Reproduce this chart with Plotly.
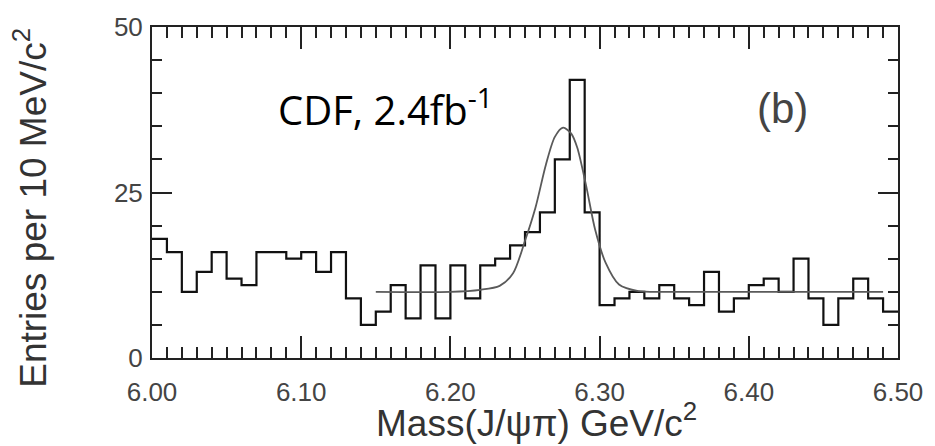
import plotly.graph_objects as go

# ---- data ----
bin_width = 0.01
mass_low = 6.00
entries = [18, 16, 10, 13, 16, 12, 11, 16, 16, 15,
           16, 13, 16, 9, 5, 7, 11, 6, 14, 6,
           14, 9, 14, 15, 17, 19, 22, 30, 42, 22,
           8, 9, 10, 9, 11, 9, 8, 13, 7, 9,
           11, 12, 10, 15, 9, 5, 9, 12, 9, 7]

fit_mass = [6.15, 6.20, 6.22, 6.233, 6.242, 6.250, 6.257, 6.264, 6.270, 6.2755,
            6.281, 6.285, 6.291, 6.297, 6.304, 6.313, 6.326, 6.35, 6.40, 6.45, 6.49]
fit_vals = [10.0, 10.0, 10.3, 10.9, 12.8, 17.7, 22.7, 29.2, 33.4, 34.8,
            33.9, 31.8, 26.0, 19.4, 14.4, 11.1, 10.1, 10.0, 10.0, 10.0, 10.0]

x_range = [6.0, 6.5]
y_range = [0, 50]
x_major_step = 0.10
y_major_step = 25
y_minor_step = 5

# histogram as step line
edges = [round(mass_low + i * bin_width, 2) for i in range(len(entries) + 1)]
hx = edges
hy = entries + [entries[-1]]

font_main = "Liberation Sans, Arial, Helvetica, sans-serif"
axis_col = "#222222"

fig = go.Figure()
fig.add_trace(go.Scatter(x=hx, y=hy, mode="lines",
                         line=dict(color="#111111", width=2.2, shape="hv"),
                         showlegend=False, hoverinfo="skip"))
# fit curve on the overlay axes (same ranges) -> also carries the minor ticks
fig.add_trace(go.Scatter(x=fit_mass, y=fit_vals, mode="lines", xaxis="x2", yaxis="y2",
                         line=dict(color="#5a5a5a", width=1.8, shape="spline", smoothing=0.8),
                         showlegend=False, hoverinfo="skip"))

fig.update_layout(
    width=935, height=446,
    margin=dict(l=152, r=35, t=15, b=88),
    paper_bgcolor="white", plot_bgcolor="white",
    font=dict(family=font_main, color="#444444"),
    xaxis=dict(range=x_range, tickmode="linear", tick0=6.0, dtick=x_major_step,
               tickformat=".2f",
               ticks="inside", ticklen=22, tickwidth=2, tickcolor=axis_col,
               showline=True, linecolor=axis_col, linewidth=2, mirror="ticks",
               showgrid=False, zeroline=False,
               tickfont=dict(size=26, color="#444444"), ticklabelstandoff=10),
    yaxis=dict(range=y_range, tickmode="linear", tick0=0, dtick=y_major_step,
               ticks="inside", ticklen=20, tickwidth=2, tickcolor=axis_col,
               showline=True, linecolor=axis_col, linewidth=2, mirror="ticks",
               showgrid=False, zeroline=False,
               tickfont=dict(size=26, color="#444444"), ticklabelstandoff=2),
    xaxis2=dict(range=x_range, overlaying="x", anchor="y2", side="bottom",
                tickmode="linear", tick0=6.0, dtick=bin_width,
                ticks="inside", ticklen=11, tickwidth=1.6, tickcolor=axis_col,
                showticklabels=False, showline=False, mirror="ticks",
                showgrid=False, zeroline=False),
    yaxis2=dict(range=y_range, overlaying="y", anchor="x2", side="left",
                tickmode="linear", tick0=0, dtick=y_minor_step,
                ticks="inside", ticklen=10, tickwidth=1.6, tickcolor=axis_col,
                showticklabels=False, showline=False, mirror="ticks",
                showgrid=False, zeroline=False),
    annotations=[
        dict(text="CDF, 2.4fb<sup>-1</sup>", x=0.166, y=0.757, xref="paper", yref="paper",
             xanchor="left", yanchor="middle", showarrow=False,
             font=dict(family="Open Sans, sans-serif", size=40, color="#000000")),
        dict(text="(b)", x=0.845, y=0.753, xref="paper", yref="paper",
             xanchor="center", yanchor="middle", showarrow=False,
             font=dict(family=font_main, size=42, color="#444444")),
        dict(text="Mass(J/ψπ) GeV/c<sup>2</sup>", x=0.515, y=-0.188, xref="paper", yref="paper",
             xanchor="center", yanchor="middle", showarrow=False,
             font=dict(family=font_main, size=37, color="#333333")),
        dict(text="Entries per 10 MeV/c<sup>2</sup>", x=-0.163, y=0.455, xref="paper", yref="paper",
             xanchor="center", yanchor="middle", showarrow=False, textangle=-90,
             font=dict(family=font_main, size=37, color="#333333")),
    ],
)

fig.write_html("out.html")
